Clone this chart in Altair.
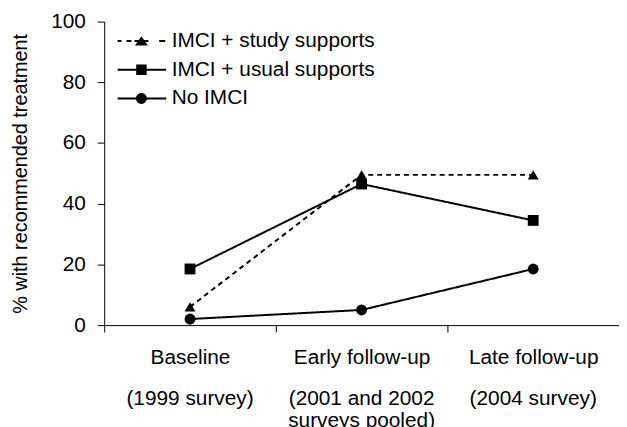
import json
import altair as alt
import pandas as pd

categories = ["Baseline", "Early follow-up", "Late follow-up"]
periods = [["(1999 survey)"], ["(2001 and 2002", "surveys pooled)"], ["(2004 survey)"]]
series = ["IMCI + study supports", "IMCI + usual supports", "No IMCI"]
study = [6.0, 49.5, 49.5]
usual = [18.5, 46.5, 34.5]
no_imci = [2.0, 5.0, 18.5]
y_ticks = [0, 20, 40, 60, 80, 100]

rows = []
for s, vals in zip(series, [study, usual, no_imci]):
    for c, v in zip(categories, vals):
        rows.append({"period": c, "series": s, "value": v})
df = pd.DataFrame(rows)

FONT = "Liberation Sans"

# second-row axis labels (survey periods)
expr = ""
for c, p in zip(categories[:-1], periods[:-1]):
    expr += f"datum.value == {json.dumps(c)} ? {json.dumps(p)} : "
expr += json.dumps(periods[-1])

x_scale = alt.Scale(type="band", domain=categories, paddingInner=0, paddingOuter=0)

y_enc = alt.Y(
    "value:Q",
    scale=alt.Scale(domain=[0, 100], nice=False),
    axis=alt.Axis(
        values=y_ticks, tickSize=7, labelFontSize=21, labelPadding=12,
        labelColor="black", domainColor="black", tickColor="black",
        title="% with recommended treatment", titleFontSize=20,
        titleFontWeight="normal", titleColor="black", titlePadding=20,
        grid=False, labelFont=FONT, titleFont=FONT,
    ),
)

lines = alt.Chart(df).mark_line(color="black", strokeWidth=2).encode(
    x=alt.X("period:N", sort=categories, scale=x_scale,
            axis=alt.Axis(title=None, orient="bottom", tickBand="extent", tickSize=7,
                          labelFontSize=21, labelPadding=15, labelAngle=0,
                          labelColor="black", domainColor="black", tickColor="black",
                          grid=False, labelFont=FONT)),
    y=y_enc,
    detail="series:N",
    strokeDash=alt.StrokeDash("series:N",
                              scale=alt.Scale(domain=series, range=[[5, 4], [1, 0], [1, 0]]),
                              legend=None),
)

points = alt.Chart(df).mark_point(filled=True, color="black", opacity=1, size=120).encode(
    x=alt.X("period:N", sort=categories, scale=x_scale,
            axis=alt.Axis(title=None, orient="bottom", labelExpr=expr, ticks=False, tickSize=0,
                          domain=False, labelFontSize=21, labelPadding=63, labelAngle=0,
                          labelLineHeight=22, labelColor="black", grid=False, labelFont=FONT)),
    y=y_enc,
    shape=alt.Shape("series:N",
                    scale=alt.Scale(domain=series, range=["triangle-up", "square", "circle"]),
                    legend=None),
)

# legend symbols: line drawn as thin filled bars (units of 5 px)
def bar(a, b):
    return f"M{a},-0.2H{b}V0.2H{a}Z"

dash_line = bar(-4.8, -4.0) + bar(-3.0, -2.0) + bar(-1.4, 1.4) + bar(3.6, 4.8)
solid_line = bar(-4.8, 5.0)
tri = "M0,-0.95L1.3,0.9L-1.3,0.9Z"
sq = "M-1.05,-1.05H1.05V1.05H-1.05Z"
circ = "M-1.1,0A1.1,1.1 0 1,1 1.1,0A1.1,1.1 0 1,1 -1.1,0Z"
legend_shapes = [dash_line + tri, solid_line + sq, solid_line + circ]

legend_layer = alt.Chart(df).transform_filter("false").mark_point(
    filled=True, color="black", opacity=1
).encode(
    shape=alt.Shape("series:N",
                    scale=alt.Scale(domain=series, range=legend_shapes),
                    legend=alt.Legend(title=None, orient="none", legendX=27, legendY=9,
                                      symbolSize=100, symbolStrokeWidth=0,
                                      symbolFillColor="black",
                                      symbolOpacity=1, labelFontSize=21, labelFont=FONT,
                                      labelColor="black", labelOffset=20, rowPadding=7,
                                      padding=0, labelLimit=400)),
)

chart = alt.layer(lines, points, legend_layer).resolve_axis(x="independent").resolve_scale(
    shape="independent"
).resolve_legend(shape="independent").properties(
    width=519, height=306,
    autosize=alt.AutoSizeParams(type="none"),
    padding={"left": 97, "top": 12, "right": 0, "bottom": 101},
).configure(font=FONT).configure_view(stroke=None)

chart.save("out.html", embed_options={"renderer": "svg", "actions": False})
